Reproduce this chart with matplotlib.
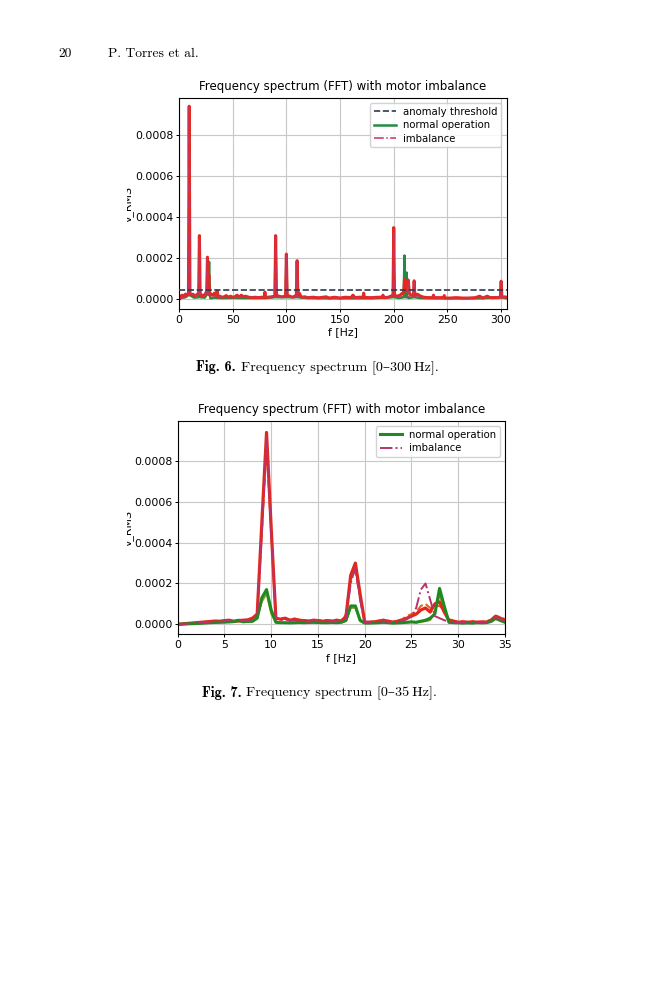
import matplotlib
matplotlib.use("Agg")
import matplotlib.pyplot as plt
from matplotlib.ticker import FormatStrFormatter, MultipleLocator
from matplotlib.transforms import Bbox, TransformedBbox

# ---------------- page text ----------------
page_number = "20"
running_head = "P. Torres et al."
caption6_bold = "Fig. 6."
caption6_text = "Frequency spectrum [0\u2013300\u2009Hz]."
caption7_bold = "Fig. 7."
caption7_text = "Frequency spectrum [0\u201335\u2009Hz]."

plot_title = "Frequency spectrum (FFT) with motor imbalance"
x_label = "f [Hz]"
y_label = "v_RMS"

# ---------------- Fig. 6 data (0-300 Hz) ----------------
threshold = 0.000045

# normal operation, (frequency [Hz], amplitude)
normal6 = [
    (0, 0), (3, 0.000008), (6, 0.00001), (8.8, 0.00002), (9.5, 0.00017), (10.2, 0.00002),
    (14, 0.000008), (18.3, 0.00001), (19, 0.00009), (19.7, 0.00001), (24, 0.000008),
    (26.8, 0.00003), (27.5, 0.00008), (28, 0.000182), (28.5, 0.00008), (29.2, 0.000005),
    (33, 0.000008), (40, 0.000006), (50, 0.000007), (60, 0.000006), (70, 0.000006),
    (80, 0.000006), (89.3, 0.00001), (90, 0.0003), (90.7, 0.00001), (99.3, 0.00001),
    (100, 0.00021), (100.7, 0.00001), (109.3, 0.00001), (110, 0.00018), (110.7, 0.00001),
    (120, 0.000006), (140, 0.000005), (160, 0.000005), (180, 0.000005), (199.3, 0.00001),
    (200, 0.00012), (200.7, 0.00001), (205, 0.000006), (209.3, 0.00001), (210, 0.000213),
    (210.7, 0.00001), (211.5, 0.00001), (212, 0.00013), (212.6, 0.00001), (214, 0.000006),
    (218.4, 0.00001), (219, 0.00006), (219.6, 0.00001), (225, 0.000006), (240, 0.000005),
    (260, 0.000005), (280, 0.000005), (299.3, 0.00001), (300, 0.00005), (300.7, 0.00001),
    (305, 0.000005),
]

# imbalance, main trace
imbalance6 = [
    (0, 0), (1.5, 0.000015), (3, 0.00002), (4.5, 0.000012), (6, 0.000025), (7.5, 0.00002),
    (8.8, 0.00003), (9.5, 0.00094), (10.2, 0.00003), (11.5, 0.00002), (13, 0.000025),
    (14.5, 0.000015), (16, 0.00002), (18.3, 0.00003), (19, 0.00031), (19.7, 0.00003),
    (21, 0.000015), (22.5, 0.00002), (24, 0.00002), (25.8, 0.00004), (26.5, 0.000205),
    (27.2, 0.00005), (27.8, 0.00012), (28.4, 0.00002), (30, 0.000025), (31.5, 0.00002),
    (33, 0.00003), (34.5, 0.000015), (35.5, 0.00004), (36.5, 0.00001), (38, 0.000015),
    (40, 0.00001), (42, 0.000012), (44, 0.000018), (46, 0.00001), (48, 0.000015),
    (50, 0.00001), (52, 0.000012), (54, 0.00002), (56, 0.00001), (58, 0.00002),
    (60, 0.000012), (62, 0.000015), (65, 0.00001), (68, 0.000008), (71, 0.00001),
    (74, 0.000008), (77, 0.00001), (79.5, 0.00001), (80, 0.000035), (80.5, 0.00001),
    (83, 0.00001), (86, 0.000012), (89.3, 0.000015), (90, 0.00031), (90.7, 0.00002),
    (93, 0.000015), (96, 0.000012), (99.3, 0.000015), (100, 0.00022), (100.7, 0.00002),
    (103, 0.000015), (106, 0.00001), (109.3, 0.00002), (110, 0.000188), (110.7, 0.00002),
    (112, 0.00003), (114, 0.00001), (117, 0.000012), (120, 0.000008), (125, 0.00001),
    (130, 0.000007), (137, 0.000012), (140, 0.000006), (145, 0.00001), (150, 0.000006),
    (155, 0.00001), (160, 0.000008), (162, 0.00002), (164, 0.000008), (168, 0.00001),
    (171.5, 0.00001), (172, 0.00003), (172.5, 0.00001), (176, 0.000008), (180, 0.000008),
    (185, 0.00001), (189.5, 0.00001), (190, 0.00002), (190.5, 0.000008), (195, 0.00001),
    (199.3, 0.00002), (200, 0.000349), (200.7, 0.00002), (203, 0.000015), (206, 0.00002),
    (208, 0.00003), (209.3, 0.00003), (210, 0.0001), (210.7, 0.00004), (212, 0.00008),
    (213.5, 0.000094), (214.5, 0.00003), (216, 0.00002), (218.4, 0.00002), (219, 0.00009),
    (219.6, 0.00002), (222, 0.000025), (225, 0.000015), (228, 0.00001), (232, 0.000008),
    (236.5, 0.000008), (237, 0.00002), (237.5, 0.000008), (242, 0.000008), (246.5, 0.000008),
    (247, 0.000018), (247.5, 0.000006), (252, 0.000006), (258, 0.000008), (264, 0.000006),
    (270, 0.000006), (276, 0.000008), (280, 0.000015), (283, 0.000006), (287, 0.000015),
    (290, 0.000008), (295, 0.000008), (299.3, 0.00001), (300, 0.000088), (300.7, 0.00001),
    (303, 0.000012), (305, 0.00001),
]

# imbalance, second run (dash-dot)
imbalance6_b = [
    (0, 0), (5, 0.00001), (8.8, 0.00002), (9.5, 0.000935), (10.2, 0.00002), (18.3, 0.00002),
    (19, 0.0003), (19.7, 0.00002), (25.6, 0.00002), (26.3, 0.0002), (27, 0.00002),
    (40, 0.00001), (89.3, 0.00001), (90, 0.000305), (90.7, 0.00001), (99.3, 0.00001),
    (100, 0.000215), (100.7, 0.00001), (109.3, 0.00001), (110, 0.000182), (110.7, 0.00001),
    (150, 0.000008), (199.3, 0.00001), (200, 0.00034), (200.7, 0.00001), (212.8, 0.00001),
    (213.5, 0.00009), (214.2, 0.00001), (218.4, 0.00001), (219, 0.000085), (219.6, 0.00001),
    (260, 0.000006), (299.3, 0.00001), (300, 0.000085), (300.7, 0.00001), (305, 0.000008),
]

# ---------------- Fig. 7 data (0-35 Hz, 0.5 Hz bins) ----------------
freq7 = [
    0.0, 0.5, 1.0, 1.5, 2.0, 2.5, 3.0, 3.5, 4.0, 4.5,
    5.0, 5.5, 6.0, 6.5, 7.0, 7.5, 8.0, 8.5, 9.0, 9.5,
    10.0, 10.5, 11.0, 11.5, 12.0, 12.5, 13.0, 13.5, 14.0, 14.5,
    15.0, 15.5, 16.0, 16.5, 17.0, 17.5, 18.0, 18.5, 19.0, 19.5,
    20.0, 20.5, 21.0, 21.5, 22.0, 22.5, 23.0, 23.5, 24.0, 24.5,
    25.0, 25.5, 26.0, 26.5, 27.0, 27.5, 28.0, 28.5, 29.0, 29.5,
    30.0, 30.5, 31.0, 31.5, 32.0, 32.5, 33.0, 33.5, 34.0, 34.5,
    35.0,
]
normal7_a = [
    0, 0.000001, 0.000002, 0.000003, 0.000004, 0.000005, 0.000007, 0.000008, 0.000009, 0.00001,
    0.000011, 0.000012, 0.000013, 0.00002, 0.000012, 0.000014, 0.000015, 0.00003, 0.00013, 0.00017,
    0.00007, 0.00001, 0.000008, 0.000008, 0.000007, 0.000008, 0.000009, 0.000008, 0.000009, 0.00001,
    0.000009, 0.000008, 0.000008, 0.000009, 0.000008, 0.00001, 0.00002, 0.00009, 0.00009, 0.00002,
    0.000006, 0.000006, 0.000007, 0.000008, 0.00001, 0.000008, 0.000006, 0.000007, 0.000008, 0.00001,
    0.000012, 0.00001, 0.000015, 0.00002, 0.00003, 0.00005, 0.000176, 0.00009, 0.00001, 0.000008,
    0.000007, 0.000006, 0.000007, 0.000006, 0.000008, 0.000007, 0.000008, 0.000015, 0.00003, 0.00002,
    0.00001,
]
normal7_b = [
    0, 0.000001, 0.000002, 0.000002, 0.000003, 0.000004, 0.000005, 0.000006, 0.000007, 0.000008,
    0.000009, 0.00001, 0.000011, 0.000012, 0.000011, 0.000012, 0.000013, 0.00003, 0.00011, 0.00015,
    0.00005, 0.000008, 0.000006, 0.000006, 0.000006, 0.000007, 0.000007, 0.000006, 0.000007, 0.000008,
    0.000007, 0.000006, 0.000006, 0.000007, 0.000006, 0.000008, 0.000015, 0.00008, 0.00008, 0.000015,
    0.000005, 0.000005, 0.000006, 0.000006, 0.000008, 0.000006, 0.000005, 0.000006, 0.000006, 0.000008,
    0.00001, 0.000008, 0.000012, 0.000015, 0.00002, 0.00006, 0.00014, 0.00008, 0.000008, 0.000006,
    0.000006, 0.000005, 0.000006, 0.000005, 0.000006, 0.000006, 0.000007, 0.00001, 0.000025, 0.000015,
    0.000008,
]
imbalance7_a = [
    0, 0.000002, 0.000004, 0.000006, 0.000008, 0.00001, 0.000012, 0.000014, 0.000016, 0.000015,
    0.000018, 0.00002, 0.000015, 0.000018, 0.00002, 0.000022, 0.00003, 0.00005, 0.0005, 0.00094,
    0.00047, 0.00003, 0.000025, 0.00003, 0.00002, 0.000025, 0.00002, 0.000018, 0.000015, 0.00002,
    0.000018, 0.000015, 0.000018, 0.000015, 0.00002, 0.000015, 0.00004, 0.00024, 0.0003, 0.00015,
    0.00001, 0.00001, 0.000012, 0.000015, 0.00002, 0.000015, 0.00001, 0.000015, 0.00002, 0.00003,
    0.00004, 0.00005, 0.00007, 0.00008, 0.00006, 0.0001, 0.00011, 0.00006, 0.00002, 0.000015,
    0.00001, 0.000012, 0.00001, 0.000012, 0.00001, 0.000012, 0.00001, 0.00002, 0.00004, 0.00003,
    0.00002,
]
imbalance7_b = [
    0, 0.000001, 0.000003, 0.000005, 0.000007, 0.000009, 0.00001, 0.000012, 0.000014, 0.000013,
    0.000016, 0.000018, 0.000014, 0.000016, 0.000018, 0.00002, 0.000025, 0.00004, 0.00045, 0.00092,
    0.00044, 0.000025, 0.00002, 0.000025, 0.000018, 0.00002, 0.000018, 0.000015, 0.000013, 0.000016,
    0.000015, 0.000013, 0.000015, 0.000013, 0.000016, 0.000013, 0.00003, 0.0002, 0.00028, 0.00012,
    0.000008, 0.000008, 0.00001, 0.000012, 0.000015, 0.000012, 0.000008, 0.000012, 0.000018, 0.000025,
    0.00004, 0.00008, 0.00017, 0.0002, 0.00012, 0.00004, 0.00003, 0.00002, 0.000012, 0.00001,
    0.000008, 0.00001, 0.000008, 0.00001, 0.000008, 0.00001, 0.000008, 0.000015, 0.000035, 0.000025,
    0.000015,
]
imbalance7_c = [
    0, 0.000002, 0.000004, 0.000005, 0.000007, 0.000009, 0.000011, 0.000013, 0.000015, 0.000014,
    0.000017, 0.000019, 0.000016, 0.000017, 0.00002, 0.000021, 0.000028, 0.00005, 0.00046, 0.00088,
    0.00045, 0.00003, 0.00003, 0.000028, 0.000022, 0.000028, 0.000022, 0.00002, 0.000018, 0.000022,
    0.00002, 0.000018, 0.00002, 0.000018, 0.000022, 0.000018, 0.00005, 0.00022, 0.00026, 0.00013,
    0.000012, 0.000012, 0.000015, 0.000018, 0.000022, 0.000018, 0.000012, 0.000018, 0.000025, 0.00004,
    0.00005, 0.00006, 0.00009, 0.0001, 0.00008, 0.00009, 0.00009, 0.00007, 0.000025, 0.000018,
    0.000012, 0.000014, 0.000012, 0.000014, 0.000012, 0.000014, 0.000012, 0.000025, 0.00004, 0.000035,
    0.000025,
]

TICK_FS = 7.8
LEGEND_FS = 7.3
TITLE_FS = 8.45
SERIF = ["cmr10", "DejaVu Serif"]
SERIF_BOLD = ["cmb10", "DejaVu Serif"]


def style_axes(ax, fig, xlim, ylim, xstep, label_x):
    ax.set_xlim(*xlim)
    ax.set_ylim(*ylim)
    ax.xaxis.set_major_locator(MultipleLocator(xstep))
    ax.yaxis.set_major_locator(MultipleLocator(0.0002))
    ax.yaxis.set_major_formatter(FormatStrFormatter("%.4f"))
    ax.tick_params(labelsize=TICK_FS, width=0.7, length=2.4, pad=1.6)
    ax.grid(True, color="#c8c8c8", linewidth=0.8)
    ax.set_axisbelow(True)
    for sp in ax.spines.values():
        sp.set_linewidth(0.8)
    ax.set_title(plot_title, fontsize=TITLE_FS, pad=6)
    ax.set_xlabel(x_label, fontsize=TICK_FS, labelpad=2)
    ax.set_ylabel(y_label, fontsize=TICK_FS)
    ax.yaxis.set_label_coords(label_x, 0.5)
    # the label is cut at the page crop in the original
    lab = ax.yaxis.label
    lab.set_clip_on(True)
    lab.set_clip_box(TransformedBbox(Bbox.from_extents(127.3 / 659, 0, 1, 1), fig.transFigure))


def split(points):
    return [p[0] for p in points], [p[1] for p in points]


def add_caption(fig, x, y, bold, text, size):
    t1 = fig.text(x, y, bold, fontsize=size, family=SERIF_BOLD, va="baseline")
    fig.canvas.draw()
    bb = t1.get_window_extent()
    x2 = (bb.x1 + 5) / fig.bbox.width
    fig.text(x2, y, text, fontsize=size, family=SERIF, va="baseline")


def main():
    fig = plt.figure(figsize=(6.59, 10), dpi=100)

    # ---------- Fig. 6 ----------
    ax6 = fig.add_axes([179 / 659, 1 - 309 / 1000, 327.5 / 659, 211 / 1000])
    ax6.axhline(threshold, color="#2f3a4c", linestyle="--", linewidth=1.2,
                label="anomaly threshold", zorder=5)
    f, a = split(normal6)
    ax6.plot(f, a, color="#238b45", linewidth=1.8, label="normal operation")
    f, a = split(imbalance6)
    ax6.plot(f, a, color="#e5291e", linewidth=2.2)
    f, a = split(imbalance6_b)
    ax6.plot(f, a, color="#c8325e", linewidth=1.1, linestyle="-.", label="imbalance")
    style_axes(ax6, fig, (0, 305), (-0.0000473, 0.00098), 50, -0.1374)
    ax6.legend(loc="upper right", fontsize=LEGEND_FS, framealpha=0.85,
               borderpad=0.35, labelspacing=0.35, handlelength=2.2, handletextpad=0.7)

    # ---------- Fig. 7 ----------
    ax7 = fig.add_axes([177.7 / 659, 1 - 634.3 / 1000, 327.3 / 659, 213.3 / 1000])
    ax7.plot(freq7, normal7_b, color="#8a9a2a", linewidth=1.3)
    ax7.plot(freq7, imbalance7_c, color="#e8641a", linewidth=1.5, linestyle="--")
    ax7.plot(freq7, imbalance7_a, color="#e2281c", linewidth=2.3)
    ax7.plot(freq7, normal7_a, color="#1f8a1f", linewidth=2.2, label="normal operation")
    ax7.plot(freq7, imbalance7_b, color="#b8336a", linewidth=1.4, linestyle="-.", label="imbalance")
    style_axes(ax7, fig, (0, 35), (-0.000049, 0.000996), 5, -0.135)
    ax7.legend(loc="upper right", fontsize=LEGEND_FS, framealpha=0.85,
               borderpad=0.35, labelspacing=0.35, handlelength=2.2, handletextpad=0.7)

    # ---------- page text ----------
    fig.text(58 / 659, 1 - 56.7 / 1000, page_number, fontsize=9.7, family=SERIF, va="baseline")
    fig.text(108 / 659, 1 - 56.7 / 1000, running_head, fontsize=9.7, family=SERIF, va="baseline")
    add_caption(fig, 196 / 659, 1 - 371 / 1000, caption6_bold, caption6_text, 10.2)
    add_caption(fig, 201.7 / 659, 1 - 696.7 / 1000, caption7_bold, caption7_text, 10.2)

    fig.savefig("out.png", dpi=100, facecolor="white")


if __name__ == "__main__":
    main()
